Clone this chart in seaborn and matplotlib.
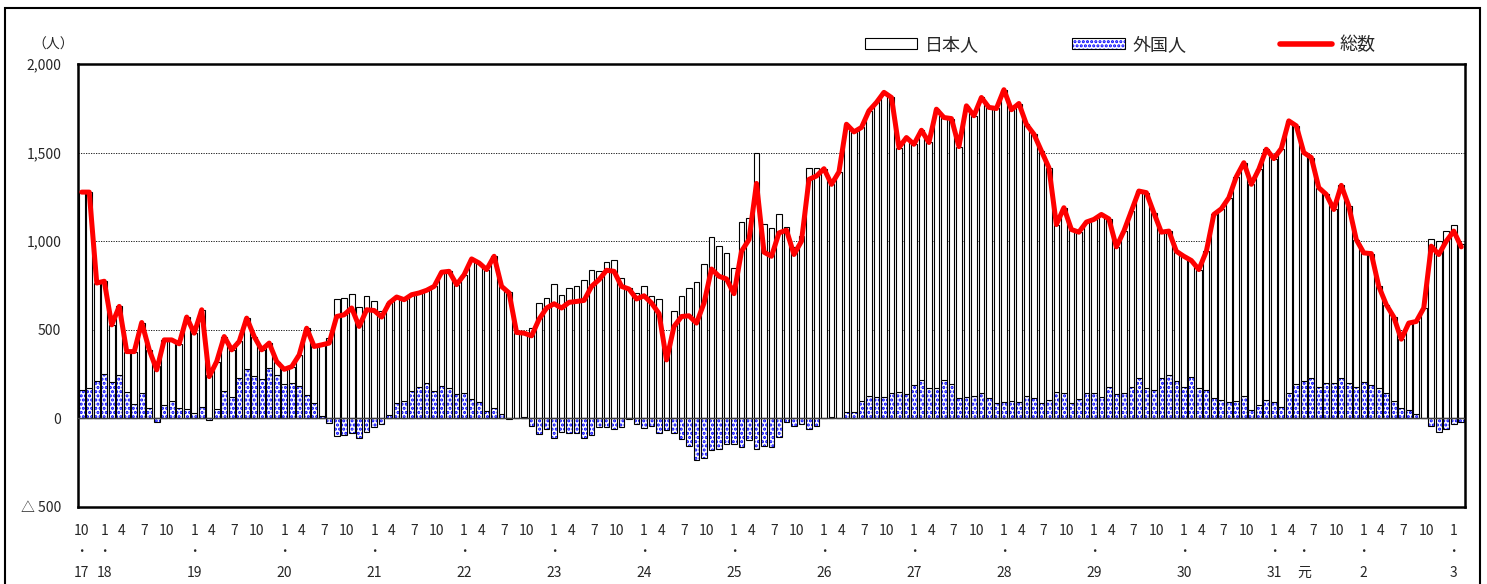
import numpy as np
import pandas as pd
import seaborn as sns
import matplotlib.pyplot as plt
import matplotlib.transforms as mtrans
from matplotlib.patches import Rectangle, Patch
from matplotlib.lines import Line2D
from matplotlib.legend_handler import HandlerTuple

# monthly series, Oct H17 (2005) .. Feb R3 (2021)
start_year, start_month = 2005, 10

total = [
    1277, 1277, 764, 774, 528, 632, 377, 377, 541, 387,
    274, 443, 443, 421, 572, 481, 613, 236, 321, 462,
    387, 434, 566, 462, 387, 425, 321, 277, 292, 358,
    509, 406, 415, 425, 575, 585, 623, 519, 613, 609,
    572, 651, 685, 670, 698, 708, 723, 745, 825, 830,
    755, 811, 900, 877, 840, 915, 745, 708, 485, 481,
    466, 560, 623, 647, 623, 655, 660, 666, 745, 783,
    836, 830, 745, 730, 674, 692, 651, 591, 330, 519,
    575, 579, 538, 651, 843, 802, 787, 704, 943, 1009,
    1326, 938, 915, 1047, 1062, 925, 1000, 1349, 1368, 1409,
    1321, 1391, 1660, 1617, 1642, 1736, 1783, 1840, 1811, 1528,
    1585, 1547, 1626, 1557, 1745, 1698, 1692, 1534, 1764, 1708,
    1811, 1755, 1749, 1855, 1742, 1777, 1660, 1604, 1509, 1415,
    1094, 1189, 1066, 1051, 1108, 1123, 1151, 1126, 968, 1057,
    1170, 1283, 1274, 1160, 1051, 1057, 943, 915, 891, 840,
    943, 1151, 1183, 1245, 1364, 1443, 1321, 1406, 1519, 1466,
    1523, 1679, 1651, 1500, 1472, 1302, 1264, 1179, 1315, 1198,
    1009, 934, 930, 745, 642, 572, 447, 538, 547, 623,
    972, 925, 1000, 1057, 968,
]

foreign = [
    160, 174, 213, 249, 206, 245, 151, 79, 145, 57,
    -19, 75, 100, 57, 51, 32, 66, -9, 51, 155,
    119, 230, 277, 242, 223, 287, 245, 194, 202, 183,
    132, 85, 13, -28, -100, -94, -81, -108, -75, -51,
    -34, 19, 89, 100, 157, 179, 202, 155, 183, 170,
    136, 145, 111, 94, 43, 60, 23, -3, 4, 9,
    -43, -89, -57, -113, -75, -81, -85, -113, -94, -47,
    -47, -62, -47, -5, -34, -53, -42, -85, -66, -85,
    -117, -157, -232, -223, -179, -170, -147, -142, -164, -123,
    -170, -157, -160, -104, -19, -43, -32, -62, -43, 3,
    9, 2, 38, 34, 100, 126, 119, 123, 145, 151,
    136, 189, 217, 170, 174, 217, 192, 117, 123, 128,
    145, 113, 85, 91, 100, 94, 126, 117, 89, 104,
    151, 145, 85, 108, 145, 142, 119, 175, 136, 142,
    175, 226, 170, 160, 226, 245, 213, 179, 232, 170,
    160, 117, 104, 94, 98, 126, 47, 75, 104, 91,
    66, 142, 192, 213, 226, 179, 202, 202, 226, 198,
    179, 208, 189, 170, 142, 98, 60, 47, 25, 3,
    -43, -75, -57, -34, -19,
]

# era year labels under the axis: (label, year, month)
year_marks = [
    ("17", 2005, 10), ("18", 2006, 1), ("19", 2007, 1), ("20", 2008, 1),
    ("21", 2009, 1), ("22", 2010, 1), ("23", 2011, 1), ("24", 2012, 1),
    ("25", 2013, 1), ("26", 2014, 1), ("27", 2015, 1), ("28", 2016, 1),
    ("29", 2017, 1), ("30", 2018, 1), ("31", 2019, 1), ("元", 2019, 5),
    ("2", 2020, 1), ("3", 2021, 1),
]

y_ticks = [-500, 0, 500, 1000, 1500, 2000]
y_tick_labels = ["△ 500", "0", "500", "1,000", "1,500", "2,000"]
legend_labels = ["日本人", "外国人", "総数"]

n = len(total)
df = pd.DataFrame({"idx": np.arange(n), "total": total, "foreign": foreign})
df["japanese"] = df["total"] - df["foreign"]
# excel-style stacking: positives pile up, negatives hang below zero
df["white_top"] = df["japanese"] + df["foreign"].clip(lower=0)
df["month"] = (start_month - 1 + df["idx"]) % 12 + 1

sns.set_style("white")
plt.rcParams["font.family"] = ["Noto Sans CJK JP", "DejaVu Sans"]
plt.rcParams["hatch.linewidth"] = 1.5

W, H = 1487, 584
fig = plt.figure(figsize=(W / 100, H / 100), dpi=100)
ax = fig.add_axes([78 / W, 1 - 507 / H, (1465 - 78) / W, (507 - 64) / H])

bw = 0.76
sns.barplot(data=df, x="idx", y="white_top", color="white", saturation=1,
            edgecolor="black", linewidth=0.8, width=bw, errorbar=None, ax=ax, zorder=2)
sns.barplot(data=df, x="idx", y="foreign", color="white", saturation=1,
            edgecolor="blue", linewidth=0, hatch="....", width=bw, errorbar=None,
            ax=ax, zorder=2)
sns.barplot(data=df, x="idx", y="foreign", color="black", fill=False,
            linewidth=0.8, width=bw, errorbar=None, ax=ax, zorder=2)
sns.lineplot(data=df, x="idx", y="total", color="red", linewidth=3.6, ax=ax,
             zorder=5, solid_joinstyle="round", solid_capstyle="round")

ax.axhline(0, color="#404040", linewidth=1.0, zorder=3)
for v in [500, 1000, 1500]:
    ax.axhline(v, color="black", linestyle=(0, (1.5, 1.5)), linewidth=0.6, zorder=0)

ax.set_xlim(-0.5, n - 0.5)
ax.set_ylim(-500, 2000)
ax.set_xticks([])
ax.set_yticks(y_ticks)
ax.set_yticklabels(y_tick_labels, fontsize=10)
ax.tick_params(axis="y", length=0, pad=12)
ax.set_xlabel("")
ax.set_ylabel("")
ax.grid(False)
for s in ax.spines.values():
    s.set_visible(True)
    s.set_color("black")
    s.set_linewidth(1.8)

# month / dot / year rows below the axis
trans = mtrans.blended_transform_factory(ax.transData, fig.transFigure)
for i in range(0, n, 3):
    m = int(df["month"][i])
    shift = 0 if (m == 1 or i == 0) else -0.7
    ax.text(i + shift, 1 - 531 / H, str(m), transform=trans, ha="center",
            va="center", fontsize=10, clip_on=False)
for lab, yy, mm in year_marks:
    i = (yy - start_year) * 12 + (mm - start_month)
    ax.text(i, 1 - 551 / H, "・", transform=trans, ha="center", va="center",
            fontsize=9, clip_on=False)
    ax.text(i, 1 - 573 / H, lab, transform=trans, ha="center", va="center",
            fontsize=10, clip_on=False)

fig.text(53 / W, 1 - 45 / H, "（人）", ha="center", va="center", fontsize=10)

h_jp = Patch(facecolor="white", edgecolor="black", linewidth=0.8)
h_fr = (Patch(facecolor="white", edgecolor="blue", hatch="....", linewidth=0),
        Patch(facecolor="none", edgecolor="black", linewidth=0.8))
h_tot = Line2D([], [], color="red", linewidth=4)
fig.legend([h_jp, h_fr, h_tot], legend_labels, loc="center left",
           bbox_to_anchor=(865 / W, 1 - 45 / H), ncol=3, frameon=False,
           fontsize=13, handlelength=2.9, handleheight=0.5, handletextpad=0.4,
           columnspacing=5.2, borderpad=0, borderaxespad=0,
           handler_map={tuple: HandlerTuple(ndivide=1, pad=0)})

# outer frame of the figure (runs off the bottom edge)
fig.add_artist(Rectangle((5 / W, -0.1), (1480 - 5) / W, 1.1 - 8 / H,
                         transform=fig.transFigure, fill=False,
                         edgecolor="black", linewidth=1.5))

fig.savefig("out.png", dpi=100)
